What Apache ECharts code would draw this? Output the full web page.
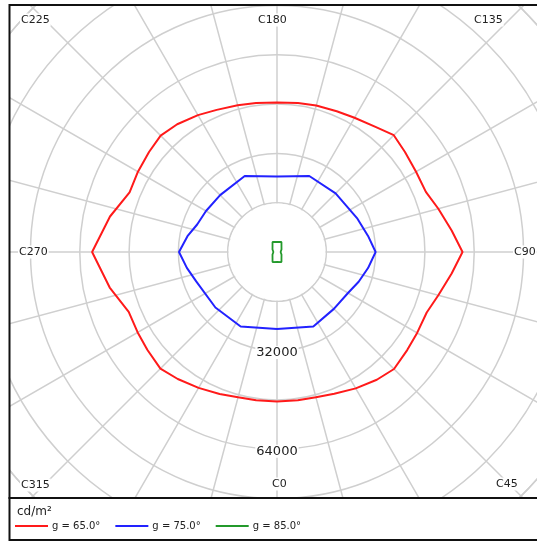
<!DOCTYPE html>
<html>
<head>
<meta charset="utf-8">
<script src="https://cdn.jsdelivr.net/npm/echarts@6/dist/echarts.min.js"></script>
<style>
html,body{margin:0;padding:0;background:#fff;}
#main{width:537px;height:542px;}
</style>
</head>
<body>
<div id="main"></div>
<script>
// ---- data (C-plane angle in degrees, luminance in cd/m²) ----
const seriesNames = ['g = 65.0°', 'g = 75.0°', 'g = 85.0°'];
const redAngles = [0,8,15,22,30,38,45,53,60,68,75,83,90,97,105,112,120,128,135,142,150,157,165,172,180,188,195,203,210,218,225,232,240,248,258,270,282,292,300,307,315,322,330,338,345,352,360];
const redValues = [48500,48600,48800,49600,51100,52600,53700,52900,52500,52400,54200,57100,60200,57100,54200,52100,52100,52700,53600,51600,50300,49600,49200,48800,48500,48800,49300,50100,51300,52600,53400,52700,52100,51600,55400,60000,55500,51900,52200,52700,53500,52300,50900,49700,48800,48600,48500];
const blueAngles = [0,26,45,60,70,80,90,100,113,135,157,180,203,225,240,251,260,270,280,290,312,334,360];
const blueValues = [25000,26900,26100,26600,28200,30000,32000,30000,28200,26900,26800,24500,26800,26100,26600,27400,29500,31800,29700,27900,26900,26900,25000];
const greenAngles = [0,24,35,45,60,75,90,105,120,135,145,156,180,204,215,225,240,255,270,285,300,315,325,336,360];
const greenValues = [3250,3570,2530,2080,1690,1430,1170,1430,1690,2080,2530,3570,3250,3570,2530,2080,1690,1430,1170,1430,1690,2080,2530,3570,3250];
const radiusTickLabels = [32000, 64000];
const angleTickLabels = ['C0','C45','C90','C135','C180','C225','C270','C315'];
const unitLabel = 'cd/m²';

const FONT = 'DejaVu Sans';
const TXT = '#222';
const GRID = '#cfcfcf';

function pairs(angles, values){ return angles.map((a,i)=>[values[i], a]); }

const chart = echarts.init(document.getElementById('main'), null, {renderer:'canvas'});

// label layout (left x, middle y) for the C-plane labels
const angleLabelPos = {
  'C0':[271,484], 'C45':[495,484], 'C90':[513,252], 'C135':[473,20],
  'C180':[257,20], 'C225':[20,20], 'C270':[18,252], 'C315':[20,485]
};

const graphics = [
  // white disk hiding spokes inside the first ring
  {type:'circle', id:'disk', shape:{cx:277, cy:252, r:48.4}, style:{fill:'#fff'}, z:1, silent:true},
  // masks outside the frame
  {type:'rect', id:'mL', shape:{x:0, y:0, width:9, height:542}, style:{fill:'#fff'}, z:50},
  {type:'rect', id:'mT', shape:{x:0, y:0, width:537, height:5}, style:{fill:'#fff'}, z:50},
  {type:'rect', id:'mB', shape:{x:0, y:538, width:537, height:4}, style:{fill:'#fff'}, z:50},
  {type:'rect', id:'frame', shape:{x:9.5, y:5, width:540, height:493}, style:{fill:null, stroke:'#111', lineWidth:2}, z:51},
  {type:'rect', id:'legbox', shape:{x:9.5, y:498, width:540, height:42}, style:{fill:'#fff', stroke:'#111', lineWidth:2}, z:51},
  {type:'text', id:'unit', x:17, y:512, style:{text:unitLabel, fill:TXT, font:'12px "'+FONT+'"', textVerticalAlign:'middle'}, z:55}
];
angleTickLabels.forEach(function(t){
  const p = angleLabelPos[t];
  graphics.push({type:'text', id:'lab'+t, x:p[0], y:p[1], z:55,
    style:{text:t, fill:TXT, font:'11px "'+FONT+'"', textVerticalAlign:'middle', backgroundColor:'#fff', padding:[1,1]}});
});

const option = {
  animation:false,
  backgroundColor:'#fff',
  polar:[
    {center:[277,252], radius:420},
    {center:[277,252], radius:345.15}
  ],
  angleAxis:[
    {polarIndex:0, type:'value', min:0, max:360, interval:15, startAngle:-90, clockwise:false,
     axisLine:{show:false}, axisTick:{show:false}, axisLabel:{show:false},
     splitLine:{show:true, lineStyle:{color:GRID, width:1.5}}},
    {polarIndex:1, type:'value', min:0, max:360, interval:15, startAngle:-90, clockwise:false,
     axisLine:{show:true, lineStyle:{color:GRID, width:1.5}}, axisTick:{show:false}, axisLabel:{show:false},
     splitLine:{show:false}}
  ],
  radiusAxis:[
    {polarIndex:0, type:'value', min:0, max:100000, show:false, splitLine:{show:false}},
    {polarIndex:1, type:'value', min:0, max:112000, interval:16000,
     axisLine:{show:false}, axisTick:{show:false}, axisLabel:{show:false},
     splitLine:{show:true, lineStyle:{color:GRID, width:1.5}}}
  ],
  legend:{
    data:seriesNames, left:15, top:521, padding:0, itemGap:15, itemWidth:33, itemHeight:2,
    icon:'rect', z:60,
    textStyle:{fontFamily:FONT, fontSize:10, color:TXT, padding:[0,0,0,-1]}
  },
  graphic:{elements:graphics},
  series:[
    {name:seriesNames[0], type:'line', coordinateSystem:'polar', polarIndex:1, data:pairs(redAngles, redValues),
     showSymbol:false, symbol:'none', lineStyle:{color:'#ff1a1a', width:2}, itemStyle:{color:'#ff1a1a'}},
    {name:seriesNames[1], type:'line', coordinateSystem:'polar', polarIndex:1, data:pairs(blueAngles, blueValues),
     showSymbol:false, symbol:'none', lineStyle:{color:'#2222ff', width:2}, itemStyle:{color:'#2222ff'}},
    {name:seriesNames[2], type:'line', coordinateSystem:'polar', polarIndex:1, data:pairs(greenAngles, greenValues),
     showSymbol:false, symbol:'none', lineStyle:{color:'#23992b', width:1.8}, itemStyle:{color:'#23992b'}}
  ]
};
chart.setOption(option);

// radius labels placed through the polar scale
const extra = radiusTickLabels.map(function(v){
  const p = chart.convertToPixel({polarIndex:1}, [v, 0]);
  return {type:'text', id:'r'+v, x:p[0], y:p[1]+2, z:55,
    style:{text:String(v), fill:TXT, font:'13px "'+FONT+'"', textAlign:'center', textVerticalAlign:'middle', backgroundColor:'#fff', padding:[0,1]}};
});
chart.setOption({graphic:{elements:graphics.concat(extra)}});
</script>
</body>
</html>
